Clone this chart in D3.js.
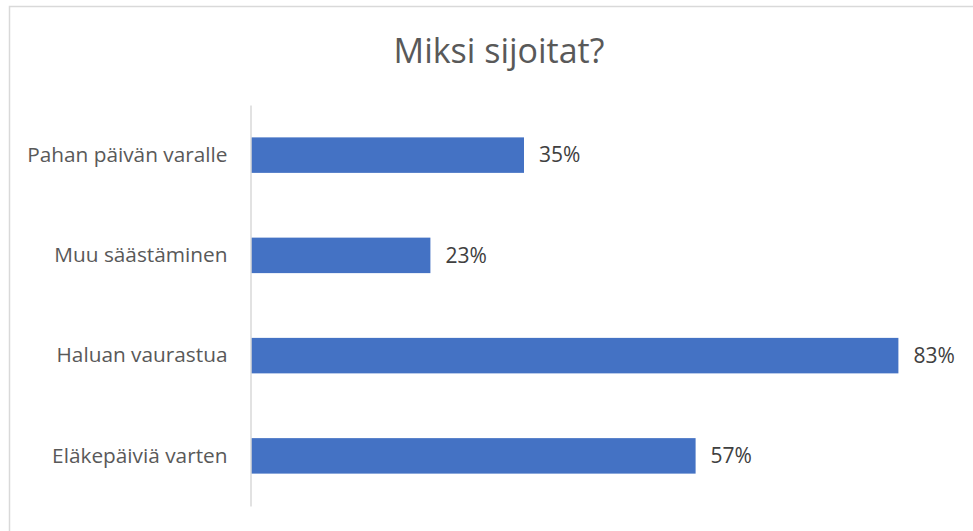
<!DOCTYPE html>
<html>
<head>
<meta charset="utf-8">
<script src="https://cdn.jsdelivr.net/npm/d3@7"></script>
<style>
  html, body { margin: 0; padding: 0; background: #fff; }
  svg { display: block; }
  text { font-family: "Open Sans", "Noto Sans", sans-serif; }
</style>
</head>
<body>
<div id="chart"></div>
<script>
// Survey: reasons for investing (share of respondents)
const categories = ["Pahan päivän varalle", "Muu säästäminen", "Haluan vaurastua", "Eläkepäiviä varten"];
const shares = [35, 23, 83, 57];
const title = "Miksi sijoitat?";

const width = 973, height = 531;
const plot = { left: 251, right: 953, top: 105, bottom: 506 };

const svg = d3.select("#chart").append("svg")
  .attr("width", width)
  .attr("height", height);

// chart frame (runs past the right and bottom edges of the view)
svg.append("rect")
  .attr("x", 9.5).attr("y", 6.5)
  .attr("width", 1000).attr("height", 600)
  .attr("fill", "#fff")
  .attr("stroke", "#d9d9d9")
  .attr("stroke-width", 1.5);

svg.append("text")
  .attr("x", 499).attr("y", 63)
  .attr("text-anchor", "middle")
  .attr("fill", "#595959")
  .attr("font-size", 34)
  .text(title);

const x = d3.scaleLinear().domain([0, 90]).range([plot.left, plot.right]);
const y = d3.scaleBand()
  .domain(categories)
  .range([plot.top, plot.bottom])
  .paddingInner(0.646)
  .paddingOuter(0.323);

const data = categories.map((c, i) => ({ cat: c, value: shares[i] }));

svg.selectAll("rect.bar")
  .data(data)
  .join("rect")
  .attr("class", "bar")
  .attr("x", x(0))
  .attr("y", d => y(d.cat))
  .attr("width", d => x(d.value) - x(0))
  .attr("height", y.bandwidth())
  .attr("fill", "#4472c4");

const axis = svg.append("g")
  .attr("transform", `translate(${plot.left - 0.5},0)`)
  .call(d3.axisLeft(y).tickSize(0).tickSizeOuter(0).tickPadding(23));
axis.select(".domain").attr("stroke", "#d9d9d9").attr("stroke-width", 1.5);
axis.selectAll(".tick text")
  .attr("font-family", "Open Sans")
  .attr("font-size", 20.8)
  .attr("fill", "#595959");

svg.selectAll("text.value")
  .data(data)
  .join("text")
  .attr("class", "value")
  .attr("x", d => x(d.value) + 15)
  .attr("y", d => y(d.cat) + y.bandwidth() / 2)
  .attr("dy", "0.35em")
  .attr("font-size", 21)
  .attr("fill", "#404040")
  .text(d => d.value + "%");
</script>
</body>
</html>
